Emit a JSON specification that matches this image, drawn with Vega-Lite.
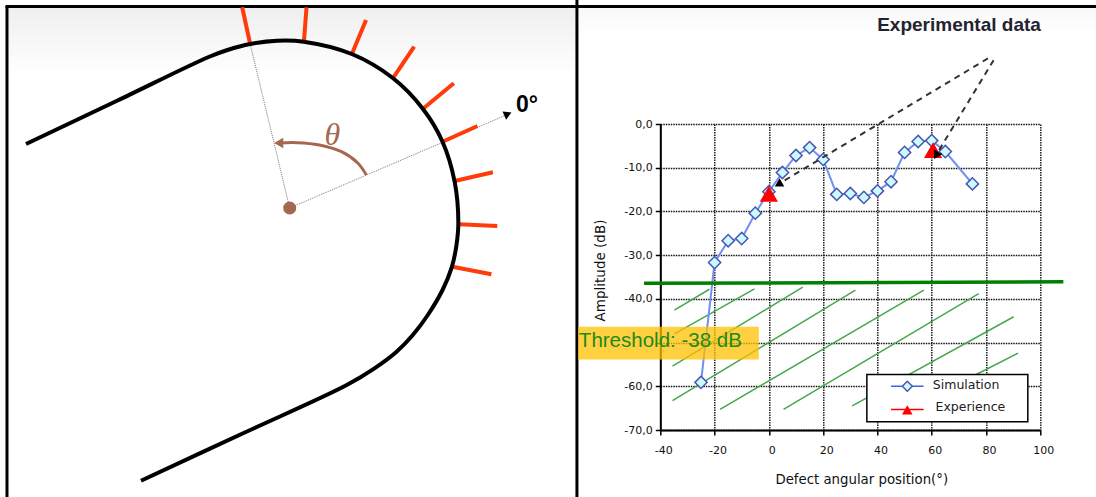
{
"$schema":"https://vega.github.io/schema/vega-lite/v6.json",
"width":380,"height":306,
"autosize":{"type":"none"},
"padding":{"left":660.3,"top":124,"right":55.7,"bottom":67},
"background":"white",
"config":{"view":{"stroke":null}},
"title":{"text":"Experimental data","anchor":"end","offset":0,"dy":36,"dx":-57,"font":"Liberation Sans","fontSize":19,"fontWeight":"bold","color":"#1f2430"},
"datasets":{
"curve":[{"u":-263.5,"v":64,"o":1},{"u":-172,"v":107.5,"o":2},{"u":-81,"v":151,"o":3},{"u":-62.2,"v":158,"o":4},{"u":-39.5,"v":164,"o":5},{"u":-12.6,"v":167.3,"o":6},{"u":14,"v":166.3,"o":7},{"u":62,"v":154,"o":8},{"u":103,"v":130,"o":9},{"u":133,"v":99.3,"o":10},{"u":152.7,"v":66.3,"o":11},{"u":164.8,"v":26.3,"o":12},{"u":168.5,"v":-15,"o":13},{"u":166.5,"v":-38,"o":14},{"u":161.9,"v":-59.3,"o":15},{"u":152.7,"v":-82,"o":16},{"u":138,"v":-107,"o":17},{"u":123,"v":-127,"o":18},{"u":106.8,"v":-143.7,"o":19},{"u":84.7,"v":-160.3,"o":20},{"u":57,"v":-177,"o":21},{"u":-46,"v":-225,"o":22},{"u":-148.6,"v":-272.7,"o":23}],
"rays":[{"u":-47.5,"v":200.7,"u2":-39.5,"v2":164},{"u":16.8,"v":200.7,"u2":14.2,"v2":166.3},{"u":76.3,"v":188,"u2":62,"v2":153.7},{"u":124.4,"v":161.3,"u2":103,"v2":129.7},{"u":164,"v":124.7,"u2":133.2,"v2":99.3},{"u":187.6,"v":82,"u2":152.7,"v2":66.3},{"u":203,"v":35.7,"u2":164.8,"v2":27},{"u":207.4,"v":-18,"u2":169.2,"v2":-16.3},{"u":201.5,"v":-66.3,"u2":162.6,"v2":-58.7}],
"arc":[{"u":76.6,"v":33,"o":1},{"u":68,"v":45,"o":2},{"u":51.7,"v":56.3,"o":3},{"u":29.6,"v":63,"o":4},{"u":7.6,"v":65.3,"o":5},{"u":-10,"v":65,"o":6}],
"sim":[{"a":-25,"d":-59.1},{"a":-20,"d":-31.7},{"a":-15,"d":-26.7},{"a":-10,"d":-26.2},{"a":-5,"d":-20.4},{"a":0,"d":-15.5},{"a":5,"d":-11.1},{"a":10,"d":-7.2},{"a":15,"d":-5.4},{"a":20,"d":-8.1},{"a":25,"d":-16.1},{"a":30,"d":-15.9},{"a":35,"d":-16.8},{"a":40,"d":-15.3},{"a":45,"d":-13.2},{"a":50,"d":-6.5},{"a":55,"d":-4},{"a":60,"d":-3.8},{"a":65,"d":-6.3},{"a":75,"d":-13.7}],
"hatch":[{"a":-34.8,"d":-42.6,"a2":-21.9,"d2":-37.8},{"a":-34.8,"d":-48,"a2":-5.3,"d2":-37.7},{"a":-35.5,"d":-55.4,"a2":12.5,"d2":-37.3},{"a":-35.5,"d":-63.3,"a2":31.9,"d2":-38},{"a":-18,"d":-65.3,"a2":57.1,"d2":-38},{"a":5.4,"d":-65.3,"a2":77.3,"d2":-38.8},{"a":30.7,"d":-64.5,"a2":90.2,"d2":-44.1},{"a":76.4,"d":-57.3,"a2":91.8,"d2":-52.4}]
},
"resolve":{"scale":{"x":"independent","y":"independent"},"axis":{"x":"independent","y":"independent"}},
"layer":[
{"encoding":{"x":{"field":"u","type":"quantitative","scale":{"domain":[370.3,750],"nice":false,"zero":false},"axis":null},"y":{"field":"v","type":"quantitative","scale":{"domain":[-222,84],"nice":false,"zero":false},"axis":null}},
"layer":[
{"data":{"values":[{"u":-282,"u2":286,"v":200,"v2":133}]},"mark":{"type":"rect","fill":{"gradient":"linear","x1":0,"y1":0,"x2":0,"y2":1,"stops":[{"offset":0,"color":"#efefef"},{"offset":1,"color":"#ffffff"}]}},"encoding":{"x2":{"field":"u2"},"y2":{"field":"v2"}}},
{"data":{"values":[{"u":289,"u2":806,"v":201,"v2":175}]},"mark":{"type":"rect","fill":{"gradient":"linear","x1":0,"y1":0,"x2":0,"y2":1,"stops":[{"offset":0,"color":"#f8f8f8"},{"offset":1,"color":"#ffffff"}]}},"encoding":{"x2":{"field":"u2"},"y2":{"field":"v2"}}},
{"data":{"values":[{"u":-282.5,"v":201.5,"u2":-282.5,"v2":-289},{"u":-284,"v":201.5,"u2":806,"v2":201.5},{"u":287,"v":208,"u2":287,"v2":-289}]},"mark":{"type":"rule","color":"#000000","strokeWidth":3},"encoding":{"x2":{"field":"u2"},"y2":{"field":"v2"}}},
{"data":{"values":[{"u":0,"v":0,"u2":-39.5,"v2":164},{"u":0,"v":0,"u2":214,"v2":92}]},"mark":{"type":"rule","color":"#777777","strokeWidth":1,"strokeDash":[1,1]},"encoding":{"x2":{"field":"u2"},"y2":{"field":"v2"}}},
{"data":{"name":"rays"},"mark":{"type":"rule","color":"#ff3b0a","strokeWidth":4},"encoding":{"x2":{"field":"u2"},"y2":{"field":"v2"}}},
{"data":{"name":"curve"},"mark":{"type":"line","color":"#000000","strokeWidth":4,"interpolate":"catmull-rom"},"encoding":{"order":{"field":"o"}}},
{"data":{"name":"arc"},"mark":{"type":"line","color":"#a5674f","strokeWidth":3,"interpolate":"catmull-rom"},"encoding":{"order":{"field":"o"}}},
{"data":{"values":[{"u":-11,"v":65}]},"mark":{"type":"point","shape":"triangle-up","filled":true,"color":"#a5674f","opacity":1,"size":110,"angle":270}},
{"data":{"values":[{"u":218,"v":94}]},"mark":{"type":"point","shape":"triangle-up","filled":true,"color":"#000000","opacity":1,"size":80,"angle":67}},
{"data":{"values":[{"u":0,"v":0}]},"mark":{"type":"point","shape":"circle","filled":true,"color":"#a5674f","opacity":1,"size":170}},
{"data":{"values":[{"u":226,"v":103,"t":"0°"}]},"mark":{"type":"text","align":"left","baseline":"middle","font":"Liberation Sans","fontWeight":"bold","fontSize":23,"color":"#000000"},"encoding":{"text":{"field":"t"}}},
{"data":{"values":[{"u":42.5,"v":73,"t":"θ"}]},"mark":{"type":"text","align":"center","baseline":"middle","font":"Liberation Serif","fontStyle":"italic","fontSize":32,"color":"#a5674f"},"encoding":{"text":{"field":"t"}}}
]},
{"encoding":{
"x":{"field":"a","type":"quantitative","title":"Defect angular position(°)","scale":{"domain":[-40,100],"nice":false,"zero":false},
"axis":{"values":[-40,-20,0,20,40,60,80,100],"labelExpr":"''+datum.value","labelFlush":false,"grid":true,"gridColor":"#111111","gridDash":[1.5,1],"gridWidth":1.4,"gridOpacity":1,"domainColor":"#000000","domainWidth":2,"tickColor":"#000000","tickWidth":1.5,"tickSize":5,"labelFont":"DejaVu Sans","labelFontSize":11,"labelColor":"#111111","labelPadding":9,"labelOffset":3,"titleFont":"DejaVu Sans","titleFontSize":13.3,"titleFontWeight":"normal","titleColor":"#111111","titlePadding":17,"titleX":201}},
"y":{"field":"d","type":"quantitative","title":"Amplitude (dB)","scale":{"domain":[-70,0],"nice":false,"zero":false},
"axis":{"values":[0,-10,-20,-30,-40,-50,-60,-70],"labelExpr":"datum.value==-50?'':replace(replace(format(datum.value,'.1f'),'.',','),'−','-')","labelFlush":false,"grid":true,"gridColor":"#111111","gridDash":[1.5,1],"gridWidth":1.4,"gridOpacity":1,"domainColor":"#000000","domainWidth":2,"tickColor":"#000000","tickWidth":1.5,"tickSize":5,"labelFont":"DejaVu Sans","labelFontSize":11,"labelColor":"#111111","labelPadding":3,"titleFont":"DejaVu Sans","titleFontSize":13.5,"titleFontWeight":"normal","titleColor":"#111111","titlePadding":16,"titleY":146}}},
"layer":[
{"data":{"name":"hatch"},"mark":{"type":"rule","color":"#45a84a","strokeWidth":1.5},"encoding":{"x2":{"field":"a2"},"y2":{"field":"d2"}}},
{"data":{"name":"sim"},"mark":{"type":"line","color":"#6f90f0","strokeWidth":2}},
{"data":{"name":"sim"},"mark":{"type":"point","shape":"diamond","filled":true,"fill":"#ccfbff","stroke":"#4a55b0","strokeWidth":1.5,"opacity":1,"size":150}},
{"data":{"values":[{"a":-70.3,"a2":-3.7,"d":-46.4,"d2":-53.9}]},"mark":{"type":"rect","color":"#ffc000","opacity":0.75},"encoding":{"x2":{"field":"a2"},"y2":{"field":"d2"}}},
{"data":{"values":[{"a":-46,"d":-36.45,"a2":108.5,"d2":-36.1}]},"mark":{"type":"rule","color":"#008000","strokeWidth":3.5},"encoding":{"x2":{"field":"a2"},"y2":{"field":"d2"}}},
{"data":{"values":[{"a":-70,"d":-49.6,"t":"Threshold: -38 dB"}]},"mark":{"type":"text","align":"left","baseline":"middle","font":"Liberation Sans","fontSize":20.5,"color":"#1c8a1c"},"encoding":{"text":{"field":"t"}}},
{"data":{"values":[{"a":80.7,"d":15,"a2":3.9,"d2":-13.6},{"a":82.8,"d":14.6,"a2":61.6,"d2":-7.1}]},"mark":{"type":"rule","color":"#333333","strokeWidth":2,"strokeDash":[6,5]},"encoding":{"x2":{"field":"a2"},"y2":{"field":"d2"}}},
{"data":{"values":[{"a":0,"d":-16},{"a":60.5,"d":-6}]},"mark":{"type":"point","shape":"triangle-up","filled":true,"color":"#ff0000","opacity":1,"size":330}},
{"data":{"values":[{"a":3.5,"d":-13.8,"r":240},{"a":61.6,"d":-7.2,"r":210}]},"mark":{"type":"point","shape":"triangle-up","filled":true,"color":"#000000","opacity":1,"size":90},"encoding":{"angle":{"field":"r","type":"quantitative","scale":null}}},
{"data":{"values":[{"a":36.1,"a2":95.4,"d":-57.3,"d2":-68.1}]},"mark":{"type":"rect","fill":"#ffffff","stroke":"#000000","strokeWidth":1.5},"encoding":{"x2":{"field":"a2"},"y2":{"field":"d2"}}},
{"data":{"values":[{"a":45,"a2":57,"d":-60,"d2":-60}]},"mark":{"type":"rule","color":"#3f63e6","strokeWidth":1.5},"encoding":{"x2":{"field":"a2"},"y2":{"field":"d2"}}},
{"data":{"values":[{"a":45,"a2":57,"d":-65.3,"d2":-65.3}]},"mark":{"type":"rule","color":"#ff0000","strokeWidth":1.5},"encoding":{"x2":{"field":"a2"},"y2":{"field":"d2"}}},
{"data":{"values":[{"a":51,"d":-60}]},"mark":{"type":"point","shape":"diamond","filled":true,"fill":"#ccfbff","stroke":"#4a55b0","strokeWidth":1.5,"opacity":1,"size":100}},
{"data":{"values":[{"a":51,"d":-65.4}]},"mark":{"type":"point","shape":"triangle-up","filled":true,"color":"#ff0000","opacity":1,"size":110}},
{"data":{"values":[{"a":60.4,"d":-59.6,"t":"Simulation"},{"a":61.4,"d":-64.8,"t":"Experience"}]},"mark":{"type":"text","align":"left","baseline":"middle","font":"DejaVu Sans","fontSize":12.5,"color":"#222222"},"encoding":{"text":{"field":"t"}}}
]}
]}
